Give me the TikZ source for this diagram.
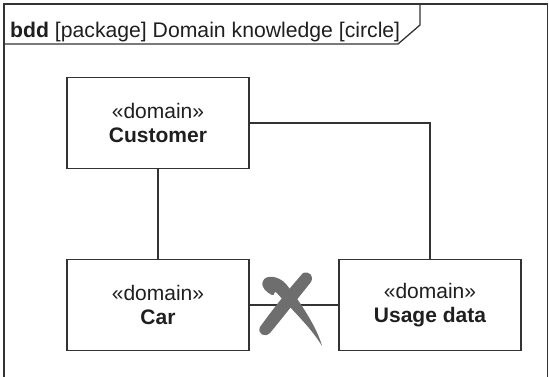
\documentclass[tikz,border=0pt]{standalone}
\usepackage{fontspec}
\setmainfont{Liberation Sans}
\begin{document}
\begin{tikzpicture}[x=1pt,y=-1pt,
  line/.style={draw=black!80,line width=1.3pt},
  block/.style={line,fill=white,minimum width=182pt,minimum height=91pt,align=center,inner sep=0pt,
    font=\fontsize{21}{24.5}\selectfont,text=black!88},
  xmark/.style={draw=none,fill=black!57}]
\useasboundingbox (0,0) rectangle (549,376);
% frame
\draw[line] (4,380) -- (4,4) -- (547.5,4) -- (547.5,380);
\draw[line] (4,44) -- (398,44) -- (420,25) -- (420,4);
\node[anchor=base west,inner sep=0pt,font=\fontsize{21.2}{24}\selectfont,text=black!88] (title) at (10,37)
  {\textbf{bdd} [package] Domain knowledge [circle]};
% blocks
\node[block] (cust) at (158,123) {«domain»\\\textbf{Customer}};
\node[block] (car) at (158,305) {«domain»\\\textbf{Car}};
\node[block] (usage) at (430,305) {«domain»\\\textbf{Usage data}};
% connectors
\draw[line] (cust.south) -- (car.north);
\draw[line] (cust.east) -| (usage.north);
\draw[line] (car.east) -- (usage.west);
% cross mark
\fill[xmark] (303,273) .. controls (310,271) and (314,276) .. (311,282)
  .. controls (298,298) and (284,316) .. (270,333)
  .. controls (265,338) and (257,334) .. (260,327)
  .. controls (273,309) and (288,290) .. (303,273) -- cycle;
\fill[xmark] (263,281) .. controls (260,288) and (268,293) .. (272,295)
  .. controls (275,296) and (273,292) .. (276,292)
  .. controls (290,308) and (310,326) .. (322,346)
  .. controls (318,330) and (302,304) .. (286,284)
  .. controls (279,276) and (266,274) .. (263,281) -- cycle;
\end{tikzpicture}
\end{document}
